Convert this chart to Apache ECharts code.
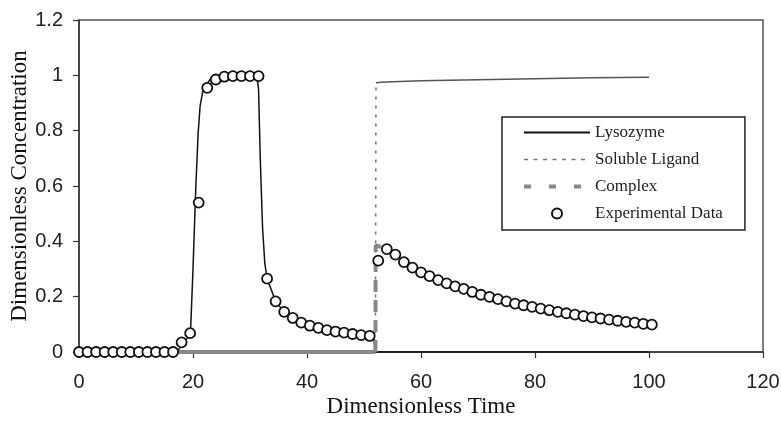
<!DOCTYPE html>
<html>
<head>
<meta charset="utf-8">
<script src="https://cdn.jsdelivr.net/npm/echarts@6/dist/echarts.min.js"></script>
<style>html,body{margin:0;padding:0;background:#fff;}#chart{width:781px;height:425px;}</style>
</head>
<body>
<div id="chart"></div>
<script>
// ---- Data ----
var xTicks = [0, 20, 40, 60, 80, 100, 120];
var yTicks = [0, 0.2, 0.4, 0.6, 0.8, 1, 1.2];

// Experimental data (circles)
var expTime = [0,1.5,3,4.5,6,7.5,9,10.5,12,13.5,15,16.5,
  18,19.5,21,22.5,24,25.5,27,28.5,30,31.5,
  33,34.5,36,37.5,39,40.5,42,43.5,45,46.5,48,49.5,51,
  52.5,54,55.5,57,58.5,60,61.5,63,64.5,66,67.5,69,70.5,72,73.5,75,76.5,78,79.5,81,82.5,84,85.5,87,88.5,90,91.5,93,94.5,96,97.5,99,100.5];
var expValue = [0,0,0,0,0,0,0,0,0,0,0,0,
  0.035,0.068,0.54,0.955,0.985,0.995,0.997,0.997,0.997,0.997,
  0.265,0.183,0.145,0.123,0.106,0.095,0.087,0.079,0.074,0.07,0.065,0.061,0.058,
  0.33,0.372,0.352,0.325,0.305,0.288,0.274,0.26,0.248,0.237,0.228,0.217,0.207,0.199,0.191,0.183,0.175,0.169,0.163,0.157,0.151,0.145,0.14,0.135,0.13,0.125,0.121,0.117,0.113,0.109,0.106,0.102,0.099];

// Lysozyme model (solid black)
var lysoTime = [0,16.5,17.5,18.3,19,19.6,20.0,20.5,20.9,21.25,21.7,22.3,23,24.5,26,31.2,31.5,31.8,32.2,32.6,33,34.5,36,37.5,39,40.5,42,43.5,45,46.5,48,49.5,51,51.7,52,60,70,80,90,100];
var lysoValue = [0,0,0.01,0.03,0.05,0.09,0.3,0.6,0.79,0.89,0.94,0.965,0.985,0.995,1,1,0.95,0.7,0.45,0.32,0.265,0.183,0.145,0.123,0.106,0.095,0.087,0.079,0.074,0.07,0.065,0.061,0.058,0.05,0,0,0,0,0,0];

// Soluble ligand model (dotted rise, then near-flat plateau)
var ligandTime = [0,52,52.1];
var ligandValue = [0,0,0.97];
var ligandTopTime = [52.1,53,55,60,70,80,90,100];
var ligandTopValue = [0.973,0.975,0.977,0.98,0.984,0.988,0.991,0.993];

// Complex model (thick grey dashed)
var complexBaseTime = [0,52];
var complexBaseValue = [0,0];
var complexTime = [52,52.05,53,54,55.5,57,58.5,60,61.5,63,64.5,66,67.5,69,70.5,72,73.5,75,76.5,78,79.5,81,82.5,84,85.5,87,88.5,90,91.5,93,94.5,96,97.5,99,100.5];
var complexValue = [0,0.385,0.38,0.372,0.352,0.325,0.305,0.288,0.274,0.26,0.248,0.237,0.228,0.217,0.207,0.199,0.191,0.183,0.175,0.169,0.163,0.157,0.151,0.145,0.14,0.135,0.13,0.125,0.121,0.117,0.113,0.109,0.106,0.102,0.099];

function pairs(xs, ys) { return xs.map(function (x, i) { return [x, ys[i]]; }); }

var chart = echarts.init(document.getElementById('chart'), null, {renderer: 'canvas'});
var serif = 'Liberation Serif';
var sans = 'Liberation Sans';

chart.setOption({
  animation: false,
  backgroundColor: '#fff',
  grid: {left: 79, right: 18, top: 20, bottom: 73, containLabel: false, outerBoundsMode: 'none',
         show: true, borderColor: '#555', borderWidth: 1.5, backgroundColor: 'transparent'},
  legend: {
    orient: 'vertical', left: 502, top: 117,
    padding: [7, 22, 8, 20],
    itemWidth: 66, itemHeight: 10, itemGap: 10,
    borderColor: '#222', borderWidth: 1.5, backgroundColor: '#fff',
    selectedMode: false,
    textStyle: {fontFamily: serif, fontSize: 17, color: '#222', lineHeight: 17},
    data: [
      {name: 'Lysozyme', itemStyle: {opacity: 0}, lineStyle: {width: 2, color: '#111', type: 'solid'}},
      {name: 'Soluble Ligand', itemStyle: {opacity: 0}, lineStyle: {width: 1.5, color: '#777', type: [4, 5.5]}},
      {name: 'Complex', itemStyle: {opacity: 0}, lineStyle: {width: 4, color: '#888', type: [7, 18]}},
      {name: 'Experimental Data'}
    ]
  },
  xAxis: {
    type: 'value', min: xTicks[0], max: xTicks[xTicks.length - 1], interval: xTicks[1] - xTicks[0],
    name: 'Dimensionless Time', nameLocation: 'middle', nameGap: 43, nameMoveOverlap: false,
    nameTextStyle: {fontFamily: serif, fontSize: 23, color: '#111'},
    axisLine: {lineStyle: {color: '#333', width: 1.5}},
    axisTick: {show: true, length: 6, lineStyle: {color: '#333', width: 1.2}},
    axisLabel: {fontFamily: sans, fontSize: 20, color: '#222', margin: 20},
    splitLine: {show: false}
  },
  yAxis: {
    type: 'value', min: yTicks[0], max: yTicks[yTicks.length - 1], interval: 0.2,
    name: 'Dimensionless Concentration', nameLocation: 'middle', nameGap: 48, nameMoveOverlap: false,
    nameTextStyle: {fontFamily: serif, fontSize: 23, color: '#111'},
    axisLine: {show: true, lineStyle: {color: '#333', width: 1.5}},
    axisTick: {show: true, length: 6, lineStyle: {color: '#333', width: 1.2}},
    axisLabel: {fontFamily: sans, fontSize: 20, color: '#222', margin: 16},
    splitLine: {show: false}
  },
  series: [
    {name: 'Lysozyme', type: 'line', z: 2, symbol: 'none', silent: true,
     lineStyle: {color: '#111', width: 1.5}, data: pairs(lysoTime, lysoValue)},
    {name: 'Soluble Ligand', type: 'line', z: 3, symbol: 'none', silent: true,
     lineStyle: {color: '#777', width: 1.6, type: [3, 6]}, data: pairs(ligandTime, ligandValue)},
    {name: 'Soluble Ligand plateau', type: 'line', z: 3, symbol: 'none', silent: true,
     lineStyle: {color: '#555', width: 1.5}, data: pairs(ligandTopTime, ligandTopValue)},
    {name: 'Complex baseline', type: 'line', z: 4, symbol: 'none', silent: true,
     lineStyle: {color: '#888', width: 4}, data: pairs(complexBaseTime, complexBaseValue)},
    {name: 'Complex', type: 'line', z: 4, symbol: 'none', silent: true,
     lineStyle: {color: '#888', width: 4, type: [12, 8]}, data: pairs(complexTime, complexValue)},
    {name: 'Experimental Data', type: 'scatter', z: 5, symbol: 'circle', symbolSize: 10, silent: true,
     itemStyle: {color: '#fff', borderColor: '#111', borderWidth: 1.8, opacity: 1},
     data: pairs(expTime, expValue)}
  ]
});
</script>
</body>
</html>
